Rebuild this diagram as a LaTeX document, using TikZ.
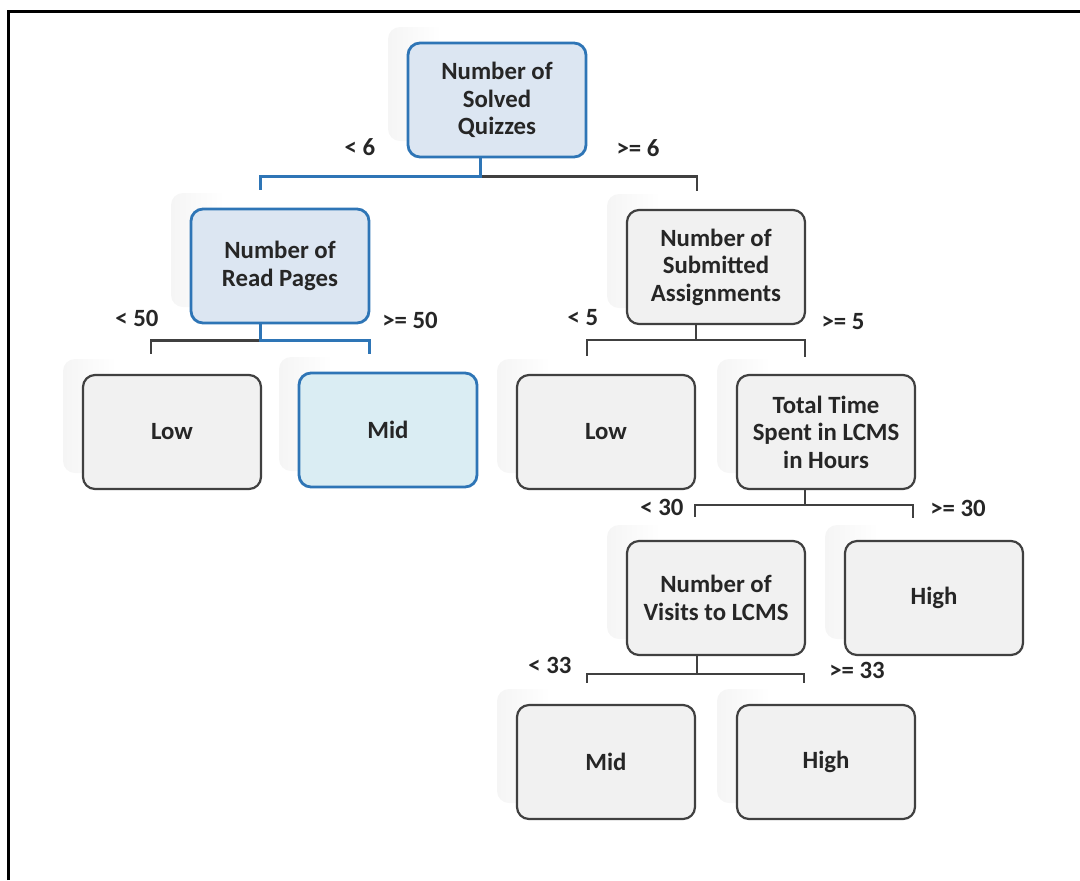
\documentclass[tikz,border=0pt]{standalone}
\usepackage{fontspec}
\setmainfont{Carlito}
\usetikzlibrary{shadows}

\definecolor{boxblue}{RGB}{46,117,182}
\definecolor{boxline}{RGB}{64,64,64}
\definecolor{boxgray}{RGB}{241,241,241}
\definecolor{bluefill}{RGB}{220,230,242}
\definecolor{cyanfill}{RGB}{218,237,243}
\definecolor{textgray}{RGB}{38,38,38}

\pgfdeclarehorizontalshading{boxshadow}{100bp}{color(0bp)=(black!30); color(10bp)=(black!14); color(25bp)=(black!4); color(40bp)=(white); color(100bp)=(white)}

\tikzset{
  box/.style={rectangle, rounded corners=6pt, draw=boxline, line width=1.1pt,
    fill=boxgray, minimum width=89pt, minimum height=57pt, align=center,
    text=textgray, font=\bfseries\fontsize{12.4}{13.75}\selectfont,
    general shadow={draw=none, shade, shading=boxshadow,
      shadow xshift=-10pt, shadow yshift=8pt}},
  bluebox/.style={box, draw=boxblue, line width=1.4pt, fill=bluefill},
  cond/.style={inner sep=0pt, text=textgray,
    font=\bfseries\fontsize{12.4}{13.75}\selectfont},
  grayline/.style={draw=boxline, line width=1.2pt},
  blueline/.style={draw=boxblue, line width=1.5pt},
}

\begin{document}
\begin{tikzpicture}[x=0.5pt, y=-0.5pt]

  \useasboundingbox (0,0) rectangle (1080,880);
  \draw[line width=1.5pt] (8,880) -- (8,11) -- (1080,11);

  % tree nodes
  \node[bluebox] (quiz)   at (497,100)   {Number of\\Solved\\Quizzes};
  \node[bluebox] (pages)  at (280,266)   {Number of\\Read Pages};
  \node[box]     (assign) at (716,267)   {Number of\\Submitted\\Assignments};
  \node[box]     (low1)   at (172,432)   {Low};
  \node[bluebox, fill=cyanfill] (mid1) at (388,430) {Mid};
  \node[box]     (low2)   at (606,432)   {Low};
  \node[box]     (time)   at (826,432)   {Total Time\\Spent in LCMS\\in Hours};
  \node[box]     (visits) at (716,598)   {Number of\\Visits to LCMS};
  \node[box]     (high1)  at (934,598)   {High};
  \node[box]     (mid2)   at (606,762)   {Mid};
  \node[box]     (high2)  at (826,762)   {High};

  % branches
  \draw[grayline] ([shift={(-17,18)}]quiz.south) -| ([shift={(-19,-18)}]assign.north);
  \draw[blueline] ([shift={(-17,0)}]quiz.south) -- ++(0,18) -| ([shift={(-20,-18)}]pages.north);

  \draw[grayline] ([shift={(-20,16)}]pages.south) -| ([shift={(-21,-20)}]low1.north);
  \draw[blueline] ([shift={(-20,0)}]pages.south) -- ++(0,16) -| ([shift={(-19,-18)}]mid1.north);

  \draw[grayline] ([shift={(-20,0)}]assign.south) -- ++(0,15) -| ([shift={(-19,-18)}]low2.north);
  \draw[grayline] ([shift={(-20,15)}]assign.south) -| ([shift={(-21,-17)}]time.north);

  \draw[grayline] ([shift={(-21,0)}]time.south) -- ++(0,15) -| ([shift={(-21,-23)}]visits.north);
  \draw[grayline] ([shift={(-21,15)}]time.south) -| ([shift={(-21,-22)}]high1.north);

  \draw[grayline] ([shift={(-19,0)}]visits.south) -- ++(0,18) -| ([shift={(-19,-21)}]mid2.north);
  \draw[grayline] ([shift={(-19,18)}]visits.south) -| ([shift={(-22,-21)}]high2.north);

  % split conditions
  \node[cond] (c1)  at (360,147) {< 6};
  \node[cond] (c2)  at (638,148) {>= 6};
  \node[cond] (c3)  at (137,318) {< 50};
  \node[cond] (c4)  at (410,320) {>= 50};
  \node[cond] (c5)  at (583,318) {< 5};
  \node[cond] (c6)  at (843,322) {>= 5};
  \node[cond] (c7)  at (662,507) {< 30};
  \node[cond] (c8)  at (958,508) {>= 30};
  \node[cond] (c9)  at (550,665) {< 33};
  \node[cond] (c10) at (857,670) {>= 33};

\end{tikzpicture}
\end{document}
